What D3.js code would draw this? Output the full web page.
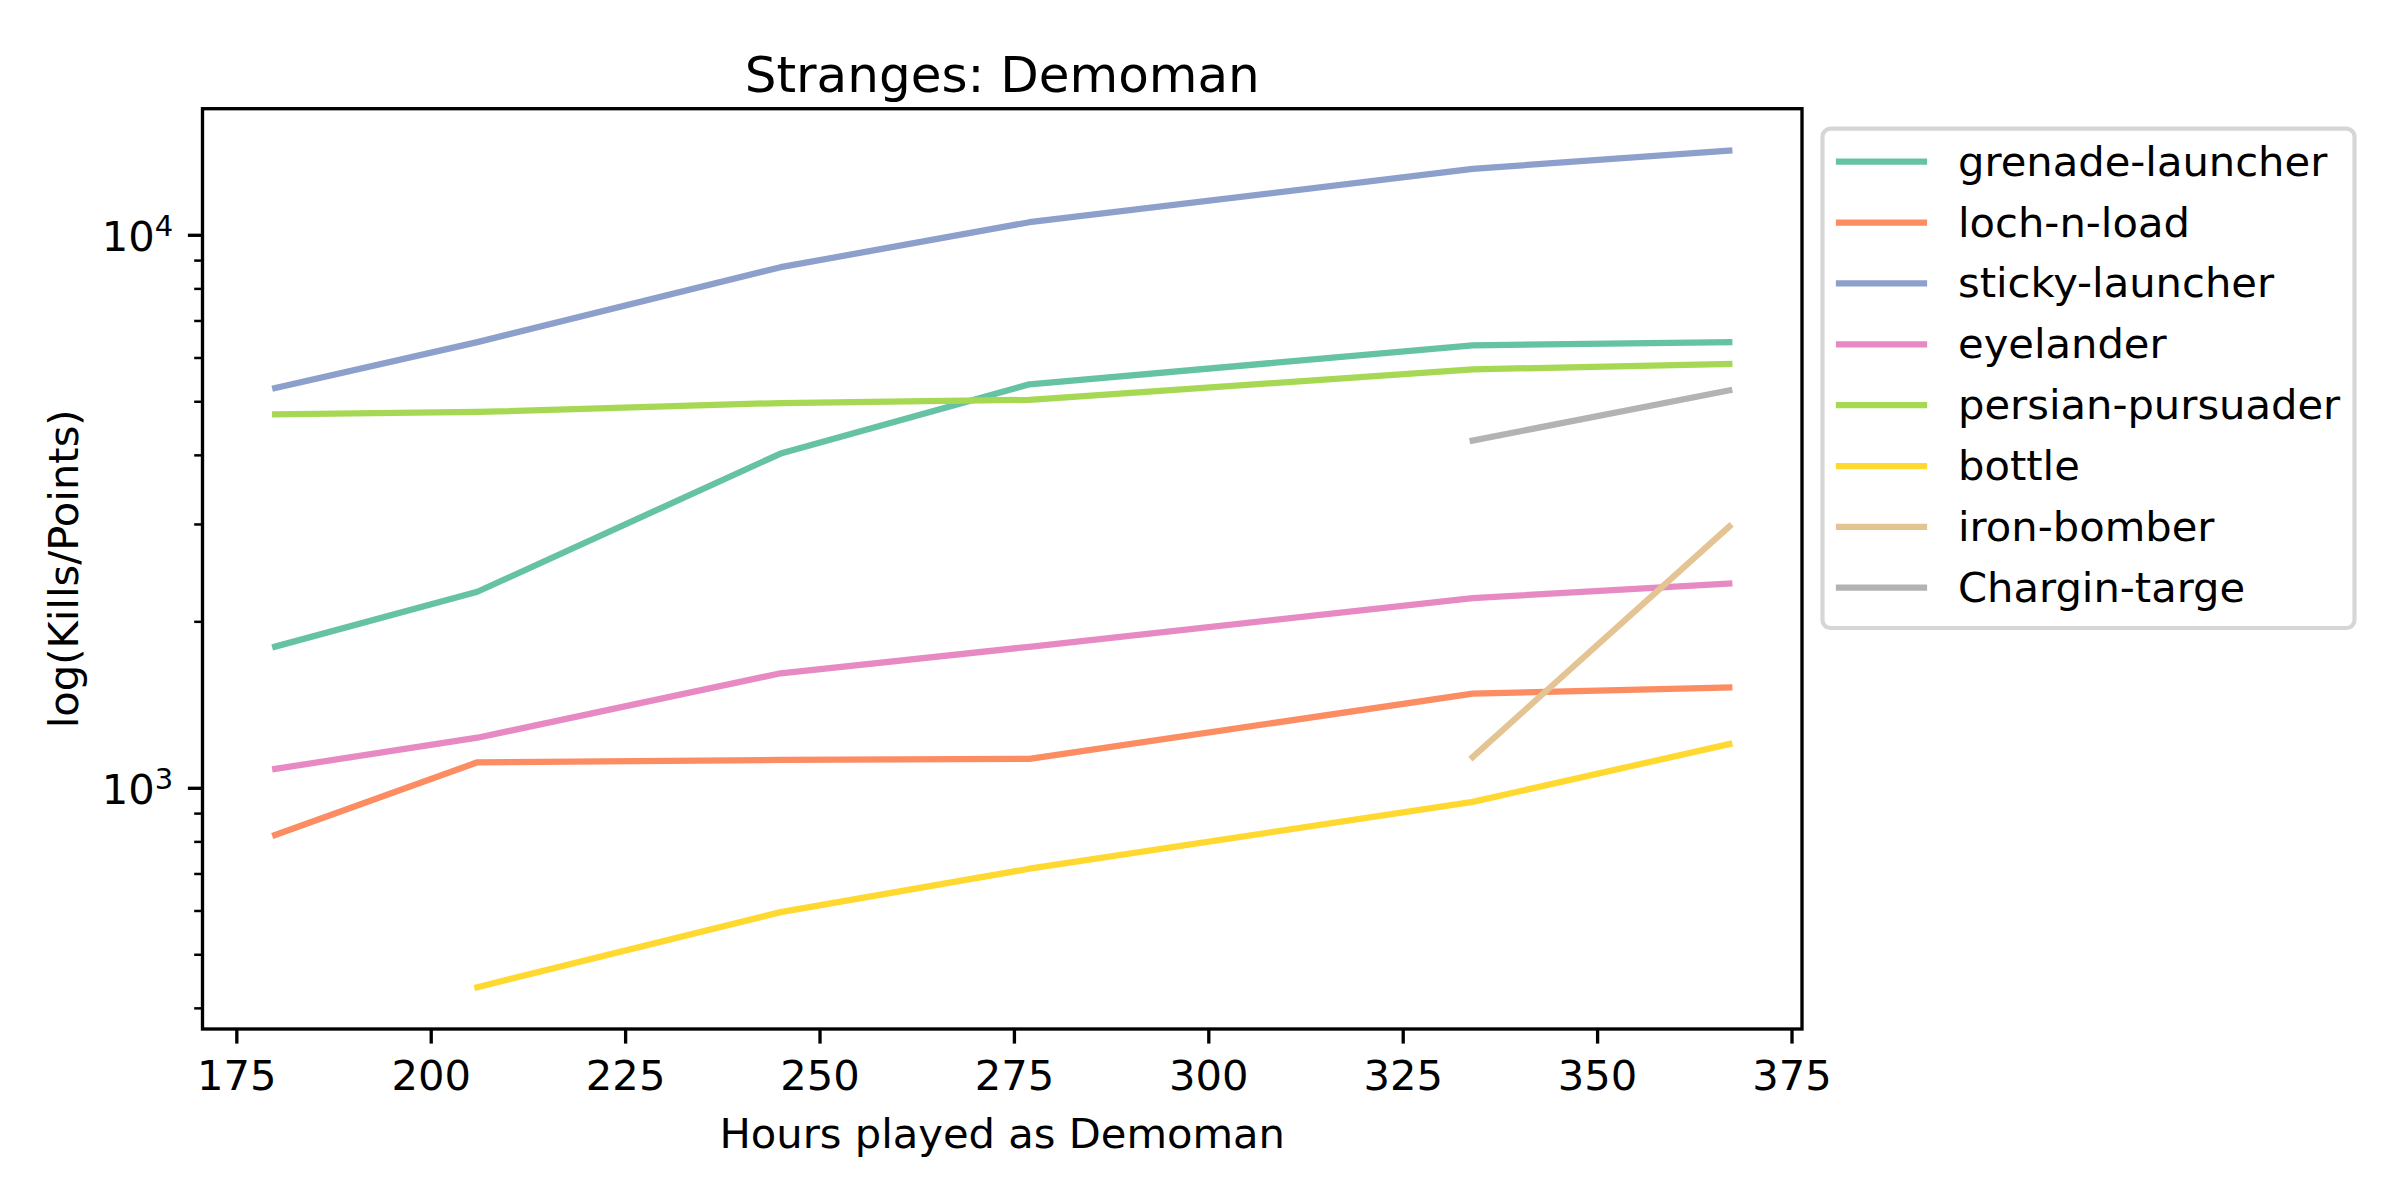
<!DOCTYPE html>
<html>
<head>
<meta charset="utf-8">
<script src="https://cdn.jsdelivr.net/npm/d3@7"></script>
<style>
  body { margin: 0; background: #fff; }
  svg { display: block; font-family: "DejaVu Sans", sans-serif; }
</style>
</head>
<body>
<svg id="chart" width="2400" height="1200"></svg>
<script>
// hours played at each snapshot
var hours = [180, 206, 245, 277, 334, 367];

// kill / point counts per weapon (null = not owned yet)
var grenadeLauncher  = [1800, 2262, 4022, 5366, 6310, 6397];
var lochNLoad        = [822, 1112, 1123, 1128, 1480, 1518];
var stickyLauncher   = [5284, 6397, 8738, 10538, 13157, 14203];
var eyelander        = [1082, 1232, 1611, 1799, 2203, 2341];
var persianPursuader = [4736, 4782, 4964, 5030, 5711, 5838];
var bottle           = [null, 436, 596, 714, 943, 1200];
var ironBomber       = [null, null, null, null, 1137, 2968];
var charginTarge     = [null, null, null, null, 4245, 5232];

var seriesNames = ["grenade-launcher", "loch-n-load", "sticky-launcher", "eyelander",
                   "persian-pursuader", "bottle", "iron-bomber", "Chargin-targe"];
var seriesValues = [grenadeLauncher, lochNLoad, stickyLauncher, eyelander,
                    persianPursuader, bottle, ironBomber, charginTarge];
var colors = ["#66c2a5", "#fc8d62", "#8da0cb", "#e78ac3",
              "#a6d854", "#ffd92f", "#e5c494", "#b3b3b3"];

var xTicks = [175, 200, 225, 250, 275, 300, 325, 350, 375];
var yMajor = [1000, 10000];

var svg = d3.select("#chart"),
    axL = 202.5, axR = 1802, axT = 108.7, axB = 1029,
    fs = 41.67;

// autoscale like matplotlib: 5% margin (log space for y)
var xMin = d3.min(hours), xMax = d3.max(hours), xPad = (xMax - xMin) * 0.05;
var all = [];
seriesValues.forEach(function(s) { s.forEach(function(v) { if (v != null) all.push(v); }); });
var lMin = Math.log10(d3.min(all)), lMax = Math.log10(d3.max(all)), lPad = (lMax - lMin) * 0.05;

var x = d3.scaleLinear()
  .domain([xMin - xPad, xMax + xPad])
  .range([axL, axR]);

var y = d3.scaleLog()
  .domain([Math.pow(10, lMin - lPad), Math.pow(10, lMax + lPad)])
  .range([axB, axT]);

// minor log ticks 2..9 x 10^k inside domain
var yMinor = [];
[100, 1000, 10000].forEach(function(b) {
  for (var m = 2; m <= 9; m++) {
    var v = b * m;
    if (v >= y.domain()[0] && v <= y.domain()[1]) yMinor.push(v);
  }
});

// lines
var line = d3.line()
  .defined(function(d) { return d[1] != null; })
  .x(function(d) { return x(d[0]); })
  .y(function(d) { return y(d[1]); });

seriesValues.forEach(function(s, i) {
  svg.append("path")
    .datum(hours.map(function(h, j) { return [h, s[j]]; }))
    .attr("d", line)
    .attr("fill", "none")
    .attr("stroke", colors[i])
    .attr("stroke-width", 6.25)
    .attr("stroke-linecap", "square")
    .attr("stroke-linejoin", "round");
});

// x axis
var gx = svg.append("g")
  .attr("transform", "translate(0," + axB + ")")
  .call(d3.axisBottom(x).tickValues(xTicks).tickSize(14.6).tickPadding(14.6));
gx.select(".domain").remove();
gx.selectAll("line").attr("stroke", "#000").attr("stroke-width", 3.33);
gx.selectAll("text").attr("font-size", fs).attr("font-family", "DejaVu Sans")
  .attr("fill", "#000").attr("dy", null).attr("y", 61);

// y axis minor ticks
var gyMinor = svg.append("g")
  .attr("transform", "translate(" + axL + ",0)")
  .call(d3.axisLeft(y).tickValues(yMinor).tickSize(8.3).tickFormat(""));
gyMinor.select(".domain").remove();
gyMinor.selectAll("line").attr("stroke", "#000").attr("stroke-width", 2.5);

// y axis major ticks
var gy = svg.append("g")
  .attr("transform", "translate(" + axL + ",0)")
  .call(d3.axisLeft(y).tickValues(yMajor).tickSize(14.6).tickPadding(14.6));
gy.select(".domain").remove();
gy.selectAll("line").attr("stroke", "#000").attr("stroke-width", 3.33);
gy.selectAll("text").each(function(d) {
  var t = d3.select(this);
  t.text("").attr("font-size", fs).attr("font-family", "DejaVu Sans")
    .attr("fill", "#000").attr("dy", null).attr("y", 16).attr("x", -29.2);
  t.append("tspan").text("10");
  t.append("tspan").attr("font-size", 29).attr("dy", -15).text(Math.round(Math.log10(d)));
});

// spines
svg.append("rect")
  .attr("x", axL).attr("y", axT)
  .attr("width", axR - axL).attr("height", axB - axT)
  .attr("fill", "none").attr("stroke", "#000").attr("stroke-width", 3.33);

// title and labels
svg.append("text")
  .attr("x", (axL + axR) / 2).attr("y", 92)
  .attr("text-anchor", "middle").attr("font-size", 50)
  .text("Stranges: Demoman");

svg.append("text")
  .attr("x", (axL + axR) / 2).attr("y", 1148)
  .attr("text-anchor", "middle").attr("font-size", fs)
  .text("Hours played as Demoman");

svg.append("text")
  .attr("transform", "translate(78," + (axT + axB) / 2 + ") rotate(-90)")
  .attr("text-anchor", "middle").attr("font-size", fs)
  .text("log(Kills/Points)");

// legend
var legend = svg.append("g");
legend.append("rect")
  .attr("x", 1822.5).attr("y", 128.6)
  .attr("width", 532).attr("height", 499.4)
  .attr("rx", 8).attr("ry", 8)
  .attr("fill", "#fff").attr("fill-opacity", 0.8)
  .attr("stroke", "#d6d6d6").attr("stroke-width", 4.17);

seriesNames.forEach(function(name, i) {
  var ly = 161.7 + i * 60.86;
  legend.append("line")
    .attr("x1", 1839).attr("x2", 1924)
    .attr("y1", ly).attr("y2", ly)
    .attr("stroke", colors[i]).attr("stroke-width", 6.25)
    .attr("stroke-linecap", "square");
  legend.append("text")
    .attr("x", 1958).attr("y", ly + 14)
    .attr("font-size", fs)
    .text(name);
});
</script>
</body>
</html>
